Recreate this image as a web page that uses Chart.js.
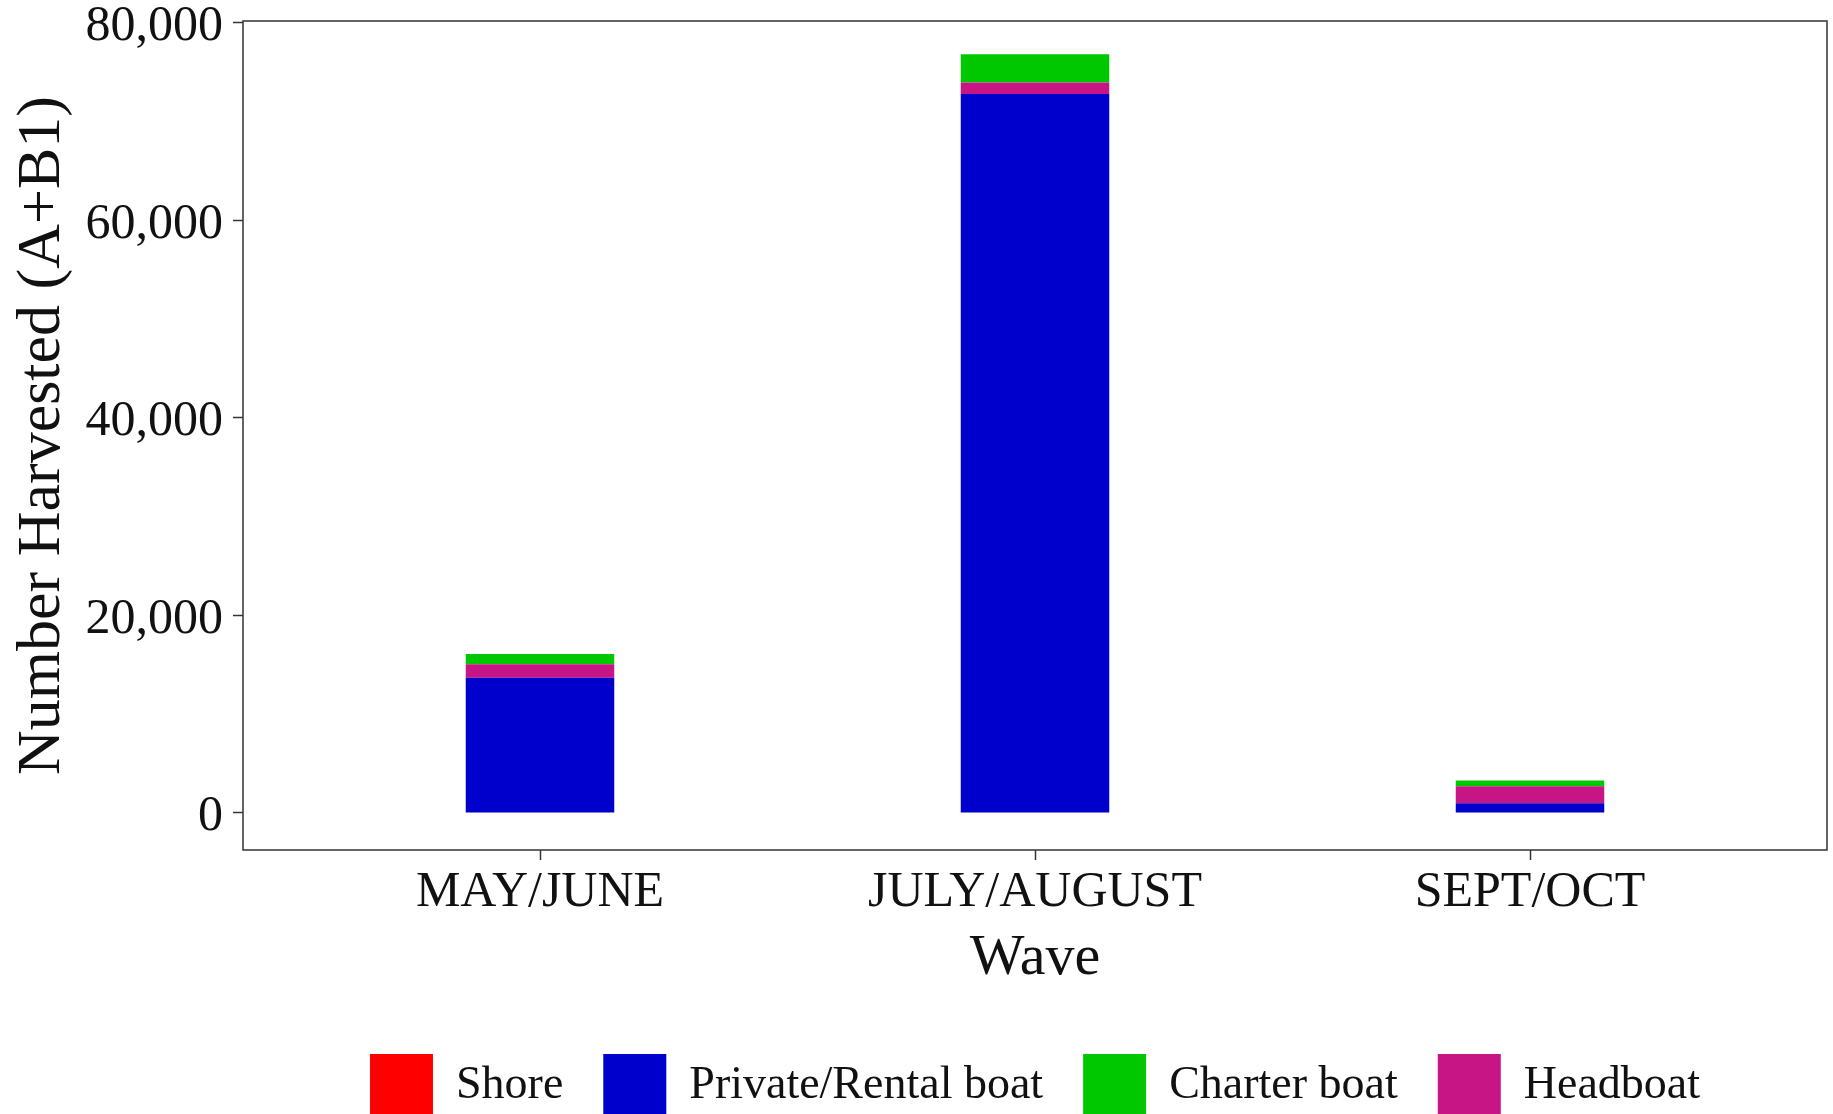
<!DOCTYPE html>
<html>
<head>
<meta charset="utf-8">
<script src="https://cdn.jsdelivr.net/npm/chart.js@4.4.1/dist/chart.umd.min.js"></script>
<style>
  html, body { margin: 0; padding: 0; background: #fff; overflow: hidden; }
  #wrap { width: 1833px; height: 1127px; position: relative; }
</style>
</head>
<body>
<div id="wrap"><canvas id="grafico"></canvas></div>
<script>
// datos
const categories = ["MAY/JUNE", "JULY/AUGUST", "SEPT/OCT"];
const shore = [0, 0, 0];
const privateRental = [13700, 72800, 980];
const headboat = [1370, 1180, 1730];
const charter = [1020, 2850, 580];
const yTicks = [0, 20000, 40000, 60000, 80000];
const legendOrder = ["Shore", "Private/Rental boat", "Charter boat", "Headboat"];

const serif = "'Liberation Serif', 'Times New Roman', serif";
const ink = "#111";

// posiciones 1..n en el eje x
const toPoints = arr => arr.map((v, i) => ({ x: i + 1, y: v }));

// borde del panel (estilo theme_bw)
const panelBorder = {
    id: "panelBorder",
    afterDraw(chart) {
        const { ctx, chartArea: a } = chart;
        ctx.save();
        ctx.strokeStyle = "#333";
        ctx.lineWidth = 1.5;
        ctx.strokeRect(a.left, a.top, a.right - a.left, a.bottom - a.top);
        ctx.restore();
    }
};

const series = [
    { label: "Shore", data: shore, color: "#FF0000" },
    { label: "Private/Rental boat", data: privateRental, color: "#0000CD" },
    { label: "Headboat", data: headboat, color: "#C71585" },
    { label: "Charter boat", data: charter, color: "#00C800" }
];

new Chart(document.getElementById("grafico"), {
    type: "bar",
    data: {
        datasets: series.map(s => ({
            label: s.label,
            data: toPoints(s.data),
            backgroundColor: s.color,
            borderWidth: 0,
            barPercentage: 0.3,
            categoryPercentage: 1
        }))
    },
    options: {
        responsive: true,
        maintainAspectRatio: false,
        animation: false,
        layout: { padding: { top: 21, right: 6, left: 0, bottom: 0 } },
        plugins: {
            tooltip: { enabled: false },
            legend: {
                position: "bottom",
                fullSize: false,
                labels: {
                    boxWidth: 63,
                    boxHeight: 63,
                    padding: 40,
                    color: ink,
                    font: { family: serif, size: 46 },
                    sort: (a, b) => legendOrder.indexOf(a.text) - legendOrder.indexOf(b.text)
                }
            }
        },
        scales: {
            x: {
                type: "linear",
                stacked: true,
                offset: false,
                min: 0.4,
                max: 3.6,
                afterBuildTicks: s => { s.ticks = categories.map((c, i) => ({ value: i + 1 })); },
                afterFit: s => { s.height = 164; s.paddingLeft = 0; s.paddingRight = 0; },
                ticks: {
                    callback: v => categories[v - 1],
                    color: ink,
                    padding: 3,
                    maxRotation: 0,
                    font: { family: serif, size: 50 }
                },
                grid: { offset: false, drawOnChartArea: false, tickLength: 10, tickColor: "#333", tickWidth: 1.5 },
                border: { display: false },
                title: {
                    display: true,
                    text: "Wave",
                    color: ink,
                    font: { family: serif, size: 58 },
                    padding: { top: 0, bottom: 20 }
                }
            },
            y: {
                stacked: true,
                min: -3750,
                max: 80200,
                afterBuildTicks: s => { s.ticks = yTicks.map(v => ({ value: v })); },
                afterFit: s => { s.width = 243; s.paddingTop = 0; s.paddingBottom = 0; },
                ticks: {
                    callback: v => v.toLocaleString("en-US"),
                    color: ink,
                    padding: 10,
                    labelOffset: 4,
                    font: { family: serif, size: 50 }
                },
                grid: { drawOnChartArea: false, tickLength: 10, tickColor: "#333", tickWidth: 1.5 },
                border: { display: false },
                title: {
                    display: true,
                    text: "Number Harvested (A+B1)",
                    color: ink,
                    font: { family: serif, size: 62 },
                    padding: { top: 6, bottom: 0 }
                }
            }
        }
    },
    plugins: [panelBorder]
});
</script>
</body>
</html>
